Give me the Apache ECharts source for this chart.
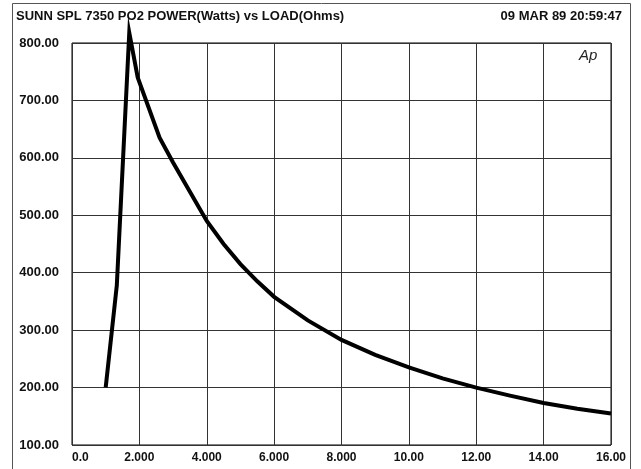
<!DOCTYPE html>
<html>
<head>
<meta charset="utf-8">
<script src="https://cdn.jsdelivr.net/npm/echarts@6/dist/echarts.min.js"></script>
<style>
html,body{margin:0;padding:0;background:#fff;}
#c{width:641px;height:469px;}
</style>
</head>
<body>
<div id="c"></div>
<script>
const titleText = 'SUNN SPL 7350 PO2 POWER(Watts) vs LOAD(Ohms)';
const dateText = '09 MAR 89 20:59:47';
const loadOhms = [1.0, 1.33, 1.7, 1.95, 2.6, 3.0, 3.5, 4.0, 4.5, 5.0, 5.5, 6.0, 7.0, 8.0, 9.0, 10.0, 11.0, 12.0, 13.0, 14.0, 15.0, 16.0];
const powerWatts = [200, 378, 818, 740, 635, 592, 541, 490, 450, 415, 385, 358, 317, 283, 257, 235, 216, 200, 186, 173, 163, 155];
const xTickLabels = ['0.0', '2.000', '4.000', '6.000', '8.000', '10.00', '12.00', '14.00', '16.00'];
const yTickLabels = ['100.00', '200.00', '300.00', '400.00', '500.00', '600.00', '700.00', '800.00'];

const chart = echarts.init(document.getElementById('c'), null, {renderer: 'canvas'});
const font = '"Liberation Sans", Arial, sans-serif';
chart.setOption({
  animation: false,
  backgroundColor: '#fff',
  grid: {left: 72, right: 30, top: 43, bottom: 24, show: true, borderColor: '#000', borderWidth: 1},
  xAxis: {
    type: 'value', min: 0, max: 16, interval: 2,
    axisLine: {show: false}, axisTick: {show: false},
    splitLine: {show: true, lineStyle: {color: '#333', width: 1}},
    axisLabel: {
      margin: 7, color: '#111', fontFamily: font, fontWeight: 'bold', fontSize: 12,
      alignMinLabel: 'left',
      formatter: function (v) { return xTickLabels[Math.round(v / 2)]; }
    }
  },
  yAxis: {
    type: 'value', min: 100, max: 800, interval: 100,
    axisLine: {show: false}, axisTick: {show: false},
    splitLine: {show: true, lineStyle: {color: '#333', width: 1}},
    axisLabel: {
      margin: 13, color: '#111', fontFamily: font, fontWeight: 'bold', fontSize: 13,
      formatter: function (v) { return yTickLabels[Math.round((v - 100) / 100)]; }
    }
  },
  series: [{
    type: 'line',
    data: loadOhms.map((x, i) => [x, powerWatts[i]]),
    showSymbol: false, smooth: false, clip: false,
    lineStyle: {color: '#000', width: 4, join: 'miter'}
  }],
  graphic: [
    {type: 'rect', shape: {x: 12.5, y: 3.5, width: 618, height: 480}, style: {fill: 'none', stroke: '#555', lineWidth: 1}},
    {type: 'text', left: 16, top: 10, style: {text: titleText, font: 'bold 13px ' + font, fill: '#111'}},
    {type: 'text', right: 19, top: 10, style: {text: dateText, font: 'bold 13px ' + font, fill: '#111'}},
    {type: 'text', left: 579, top: 48, style: {text: 'Ap', font: 'italic 15px ' + font, fill: '#222'}}
  ]
});
</script>
</body>
</html>
